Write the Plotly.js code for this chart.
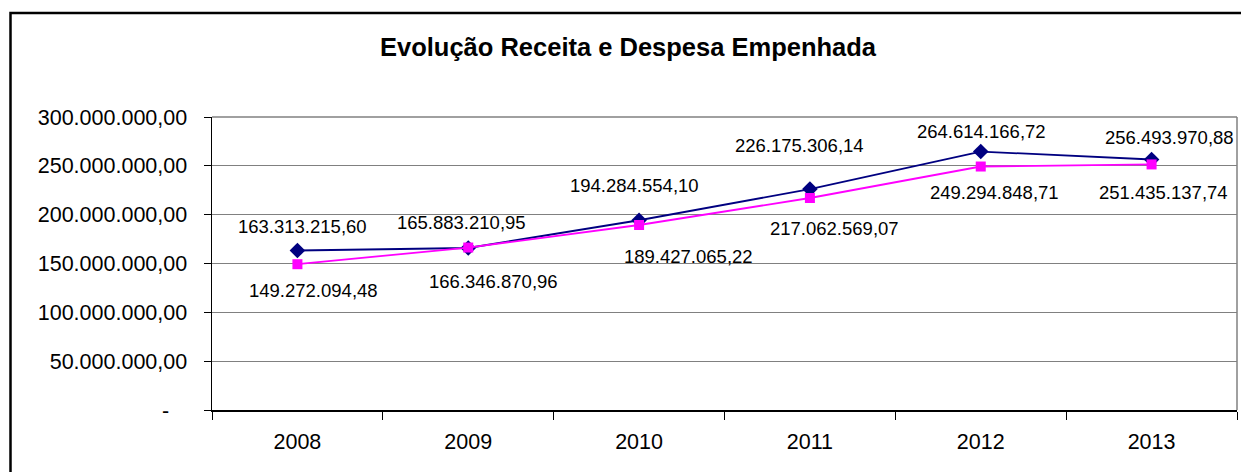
<!DOCTYPE html>
<html>
<head>
<meta charset="utf-8">
<script src="https://cdn.plot.ly/plotly-3.0.1.min.js"></script>
<style>
html,body{margin:0;padding:0;background:#fff;}
#chart{width:1241px;height:472px;}
</style>
</head>
<body>
<div id="chart"></div>
<script>
// ---- data ----
const years = ["2008", "2009", "2010", "2011", "2012", "2013"];
const receita = [163313215.60, 165883210.95, 194284554.10, 226175306.14, 264614166.72, 256493970.88];
const despesa = [149272094.48, 166346870.96, 189427065.22, 217062569.07, 249294848.71, 251435137.74];
const yTickVals = [0, 50000000, 100000000, 150000000, 200000000, 250000000, 300000000];
const chartTitle = "Evolução Receita e Despesa Empenhada";

// ---- label offsets (styling, pixels) ----
const receitaShift = [[5, 24], [-7, 25], [-5, 35], [-10, 44], [1, 20], [18, 22]];
const despesaShift = [[16, -26], [25, -34], [49, -32], [25, -30], [14, -26], [12, -28]];

function fmtBR(v) {
  const neg = v < 0;
  v = Math.abs(v);
  let cents = Math.round(v * 100);
  let intPart = Math.floor(cents / 100).toString();
  let dec = (cents % 100).toString().padStart(2, "0");
  intPart = intPart.replace(/\B(?=(\d{3})+(?!\d))/g, ".");
  return (neg ? "-" : "") + intPart + "," + dec;
}

const FONT = "Liberation Sans, Arial, sans-serif";
const tickText = yTickVals.map(v => v === 0 ? "-\u00a0\u00a0\u00a0" : fmtBR(v));

const traces = [
  {
    x: years, y: receita, type: "scatter", mode: "lines+markers", name: "Receita",
    line: {color: "#000080", width: 1.8},
    marker: {symbol: "diamond", size: 12, color: "#000080"},
    hoverinfo: "skip"
  },
  {
    x: years, y: despesa, type: "scatter", mode: "lines+markers", name: "Despesa Empenhada",
    line: {color: "#FF00FF", width: 1.8},
    marker: {symbol: "square", size: 10, color: "#FF00FF"},
    hoverinfo: "skip"
  }
];

const annotations = [];
years.forEach((yr, i) => {
  annotations.push({x: i, y: receita[i], xref: "x", yref: "y", text: fmtBR(receita[i]),
    showarrow: false, xshift: receitaShift[i][0], yshift: receitaShift[i][1],
    font: {family: FONT, size: 18.5, color: "#000"}});
  annotations.push({x: i, y: despesa[i], xref: "x", yref: "y", text: fmtBR(despesa[i]),
    showarrow: false, xshift: despesaShift[i][0], yshift: despesaShift[i][1],
    font: {family: FONT, size: 18.5, color: "#000"}});
});

const layout = {
  width: 1241, height: 472,
  margin: {l: 212, r: 4, t: 117, b: 62, pad: 0},
  paper_bgcolor: "#fff", plot_bgcolor: "#fff",
  showlegend: false,
  font: {family: FONT, color: "#000"},
  title: {
    text: "<b>" + chartTitle + "</b>",
    font: {family: FONT, size: 25.5, color: "#000"},
    x: 628 / 1241, xref: "container", xanchor: "center",
    y: 1 - 47 / 472, yref: "container", yanchor: "middle"
  },
  xaxis: {
    type: "category", range: [-0.5, 5.5],
    showgrid: false, zeroline: false,
    showline: true, linecolor: "#000", linewidth: 1.5,
    ticks: "outside", tickson: "boundaries", ticklen: 8, tickcolor: "#000", tickwidth: 1,
    tickfont: {family: FONT, size: 21.5, color: "#000"},
    ticklabelstandoff: 12,
    fixedrange: true
  },
  yaxis: {
    range: [0, 300000000],
    tickvals: yTickVals, ticktext: tickText,
    showgrid: true, gridcolor: "#808080", gridwidth: 1,
    zeroline: false,
    showline: true, linecolor: "#000", linewidth: 1.5,
    ticks: "outside", ticklen: 7, tickcolor: "#000", tickwidth: 1,
    tickfont: {family: FONT, size: 21.5, color: "#000"},
    ticklabelstandoff: 12,
    fixedrange: true
  },
  annotations: annotations,
  shapes: [
    {type: "line", xref: "paper", yref: "paper", x0: 0, x1: 1, y0: 1, y1: 1,
     line: {color: "#808080", width: 1.5}, layer: "below"},
    {type: "line", xref: "paper", yref: "paper", x0: 1, x1: 1, y0: 0, y1: 1,
     line: {color: "#808080", width: 1.5}, layer: "below"},
    {type: "rect", xref: "paper", yref: "paper",
     x0: (10.5 - 212) / 1025, x1: 1.05, y0: -0.5, y1: 1 + (117 - 13) / 293,
     line: {color: "#000", width: 2.5}, fillcolor: "rgba(0,0,0,0)", layer: "above"}
  ]
};

Plotly.newPlot("chart", traces, layout, {staticPlot: true, displayModeBar: false});
</script>
</body>
</html>
